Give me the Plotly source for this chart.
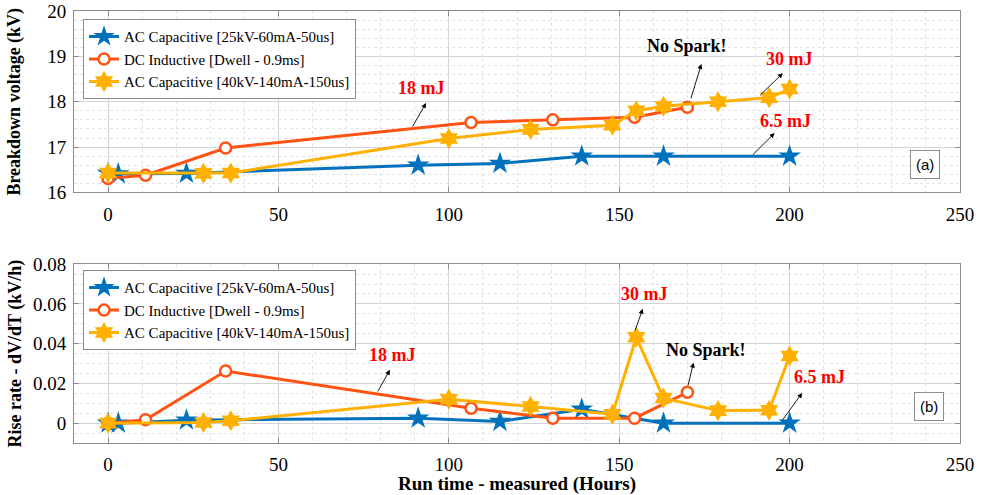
import plotly.graph_objects as go

# ---------------- data ----------------
names = ["AC Capacitive [25kV-60mA-50us]",
         "DC Inductive [Dwell - 0.9ms]",
         "AC Capacitive [40kV-140mA-150us]"]

ac1_t = [0, 3, 23, 91, 115, 139, 163, 200]
ac1_v = [16.42, 16.41, 16.42, 16.60, 16.64, 16.80, 16.80, 16.80]
ac1_r = [0.0, 0.0, 0.0015, 0.0025, 0.0008, 0.0070, 0.0, 0.0]

dc_t = [0, 11, 34.5, 106.5, 130.5, 154.5, 170]
dc_v = [16.31, 16.38, 16.98, 17.54, 17.60, 17.66, 17.88]
dc_r = [0.0, 0.0017, 0.0262, 0.0075, 0.0025, 0.0025, 0.0155]

ac2_t = [0, 28, 36, 100, 124, 148, 155, 163, 179, 194, 200]
ac2_v = [16.43, 16.42, 16.43, 17.19, 17.39, 17.48, 17.80, 17.90, 18.00, 18.09, 18.28]
ac2_r = [0.0, 0.0003, 0.0012, 0.0120, 0.0084, 0.0045, 0.0432, 0.0126, 0.0063, 0.0065, 0.0338]

x_ticks = [0, 50, 100, 150, 200, 250]
y1_ticks = [16, 17, 18, 19, 20]
y2_ticks = [0, 0.02, 0.04, 0.06, 0.08]
y2_labels = ["0", "0.02", "0.04", "0.06", "0.08"]

# ---------------- styling ----------------
BLUE = "#0072BD"
ORANGE = "#FF5314"
YELLOW = "#FFB000"
SERIF = "Liberation Serif, Times New Roman, serif"

fig = go.Figure()

def add_series(xs, ys, yaxis, legend, show):
    specs = [
        (ac1_t, BLUE, dict(symbol="star", size=17, color=BLUE, line=dict(width=0))),
        (dc_t, ORANGE, dict(symbol="circle", size=11, color="white", line=dict(width=2.5, color=ORANGE))),
        (ac2_t, YELLOW, dict(symbol="hexagram", size=16, color=YELLOW, line=dict(width=0))),
    ]
    for i, (t, col, mk) in enumerate(specs):
        fig.add_trace(go.Scatter(
            x=t, y=ys[i], mode="lines+markers", name=names[i],
            line=dict(color=col, width=3), marker=mk,
            xaxis=xs, yaxis=yaxis, legend=legend, showlegend=show))

add_series("x", [ac1_v, dc_v, ac2_v], "y", "legend", True)
add_series("x2", [ac1_r, dc_r, ac2_r], "y2", "legend2", True)

grid = "#d4d4d4"
minor_grid = "#e3e3e3"
axis_common = dict(showline=True, linecolor="#8c8c8c", linewidth=1, mirror="allticks",
                   ticks="inside", ticklen=5, tickcolor="#8c8c8c",
                   gridcolor=grid, gridwidth=1, zeroline=False, automargin=False,
                   ticklabeloverflow="allow",
                   tickfont=dict(family=SERIF, size=19, color="black"))

fig.update_layout(
    width=984, height=495,
    margin=dict(l=74, r=24, t=11, b=52, autoexpand=False),
    paper_bgcolor="white", plot_bgcolor="white",
    font=dict(family=SERIF, color="black"),
    xaxis=dict(domain=[0, 1], range=[-10, 250], tickvals=x_ticks, anchor="y", ticklabelstandoff=5,
               minor=dict(dtick=10, showgrid=True, gridcolor=minor_grid, griddash="dot", ticks=""),
               **axis_common),
    yaxis=dict(domain=[0.58, 1.0], range=[16, 20], tickvals=y1_ticks, anchor="x", ticklabelstandoff=3,
               minor=dict(dtick=0.2, showgrid=True, gridcolor=minor_grid, griddash="dot", ticks=""),
               title=dict(text="<b>Breakdown voltage (kV)</b>", font=dict(family=SERIF, size=18), standoff=21),
               **axis_common),
    xaxis2=dict(domain=[0, 1], range=[-10, 250], tickvals=x_ticks, anchor="y2", ticklabelstandoff=4,
                minor=dict(dtick=10, showgrid=True, gridcolor=minor_grid, griddash="dot", ticks=""),
                title=dict(text="<b>Run time - measured (Hours)</b>", font=dict(family=SERIF, size=19), standoff=8),
                **axis_common),
    yaxis2=dict(domain=[0.0, 0.414], range=[-0.01, 0.08], tickvals=y2_ticks, ticktext=y2_labels, anchor="x2",
                ticklabelstandoff=3,
                minor=dict(dtick=0.005, tick0=0, showgrid=True, gridcolor=minor_grid, griddash="dot", ticks=""),
                title=dict(text="<b>Rise rate - dV/dT (kV/h)</b>", font=dict(family=SERIF, size=18), standoff=6),
                **axis_common),
    legend=dict(x=0.0102, y=0.981, xanchor="left", yanchor="top",
                bgcolor="white", bordercolor="#8c8c8c", borderwidth=1,
                font=dict(family=SERIF, size=15, color="black"), tracegroupgap=0),
    legend2=dict(x=0.0102, y=0.400, xanchor="left", yanchor="top",
                 bgcolor="white", bordercolor="#8c8c8c", borderwidth=1,
                 font=dict(family=SERIF, size=15, color="black"), tracegroupgap=0),
    showlegend=True,
)

fig.update_xaxes(tickprefix="<b>", ticksuffix="</b>")
fig.update_yaxes(tickprefix="<b>", ticksuffix="</b>")

RED = "#FF0000"

def arrow(xr, yr, x0, y0, x1, y1):
    fig.add_annotation(x=x1, y=y1, ax=x0, ay=y0, xref=xr, yref=yr, axref=xr, ayref=yr,
                       text="", showarrow=True, arrowhead=2, arrowsize=1.1, arrowwidth=0.9,
                       arrowcolor="black")

def label(xr, yr, x, y, txt, col):
    fig.add_annotation(x=x, y=y, xref=xr, yref=yr, text="<b>" + txt + "</b>", showarrow=False,
                       font=dict(family=SERIF, size=18, color=col))

# top panel annotations
arrow("x", "y", 89.1, 17.42, 93.3, 17.97); label("x", "y", 92.1, 18.30, "18 mJ", RED)
arrow("x", "y", 170.9, 18.04, 174.1, 18.83); label("x", "y", 169.8, 19.22, "No Spark!", "black")
arrow("x", "y", 190.9, 18.11, 198.0, 18.63); label("x", "y", 200.0, 18.95, "30 mJ", RED)
arrow("x", "y", 188.8, 16.80, 195.6, 17.31); label("x", "y", 198.8, 17.58, "6.5 mJ", RED)

# bottom panel annotations
arrow("x2", "y2", 78.9, 0.0152, 82.7, 0.0268); label("x2", "y2", 83.6, 0.0345, "18 mJ", RED)
arrow("x2", "y2", 154.5, 0.0459, 156.9, 0.0575); label("x2", "y2", 157.5, 0.0648, "30 mJ", RED)
arrow("x2", "y2", 170.1, 0.0183, 171.8, 0.0304); label("x2", "y2", 175.6, 0.0370, "No Spark!", "black")
arrow("x2", "y2", 197.6, 0.0008, 203.7, 0.0152); label("x2", "y2", 208.8, 0.0234, "6.5 mJ", RED)

# panel tags
fig.add_annotation(x=239.6, y=16.62, xref="x", yref="y", text="(a)", showarrow=False,
                   font=dict(family="Liberation Sans, Arial, sans-serif", size=15, color="black"),
                   bgcolor="white", bordercolor="#8c8c8c", borderwidth=1, borderpad=5)
fig.add_annotation(x=240.8, y=0.0082, xref="x2", yref="y2", text="(b)", showarrow=False,
                   font=dict(family="Liberation Sans, Arial, sans-serif", size=15, color="black"),
                   bgcolor="white", bordercolor="#8c8c8c", borderwidth=1, borderpad=5)

# remove the page's default body margin so the figure fills the window exactly
fig.write_html("out.html", config={"displayModeBar": False},
               post_script="document.body.style.margin='0';document.body.style.overflow='hidden';")
